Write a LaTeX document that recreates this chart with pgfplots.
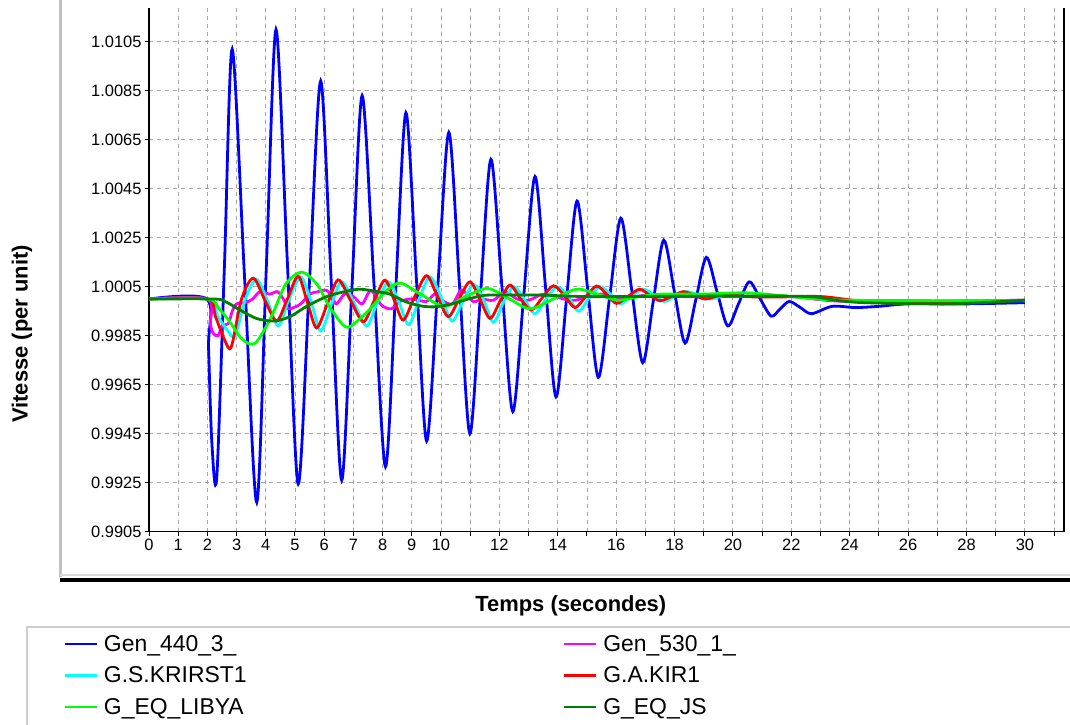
\documentclass[border=0pt]{standalone}
\usepackage{fontspec}
\setmainfont{Liberation Sans}
\setsansfont{Liberation Sans}
\usepackage{pgfplots}
\pgfplotsset{compat=1.18}
\definecolor{cblue}{RGB}{0,0,255}
\definecolor{cmag}{RGB}{255,0,255}
\definecolor{ccyan}{RGB}{0,255,255}
\definecolor{cred}{RGB}{255,0,0}
\definecolor{cgreen}{RGB}{0,255,0}
\definecolor{cdgreen}{RGB}{0,128,0}
\definecolor{panelgray}{RGB}{192,192,192}
\begin{document}
\begin{tikzpicture}[x=1bp,y=1bp]
\path[use as bounding box] (0,0) rectangle (1070,725);
\draw[color=panelgray, line width=3bp] (60,725) -- (60,148);
\draw[color=panelgray!60, line width=2bp] (60,150) -- (1070,150);
\draw[black, line width=4bp] (60,145) -- (1070,145);
\draw[color=panelgray!80, line width=1.5bp] (27,0) -- (27,98) -- (1070,98);
\begin{axis}[
  at={(149bp,193.3bp)}, anchor=south west, scale only axis,
  width=915bp, height=523.7bp,
  xmin=0, xmax=31.34, ymin=0.9905, ymax=1.01188,
  axis x line*=bottom, axis y line*=left,
  axis line style={-, line width=1.2bp, black},
  after end axis/.code={\draw[line width=1.2bp] (rel axis cs:1,0) -- (rel axis cs:1,1);},
  xtick={0,1,...,31},
  xticklabels={0,1,2,3,4,5,6,7,8,9,10,,12,,14,,16,,18,,20,,22,,24,,26,,28,,30,},
  ytick={0.9905,0.9925,0.9945,0.9965,0.9985,1.0005,1.0025,1.0045,1.0065,1.0085,1.0105},
  yticklabels={0.9905,0.9925,0.9945,0.9965,0.9985,1.0005,1.0025,1.0045,1.0065,1.0085,1.0105},
  tick align=outside, major tick length=4bp, tick style={black, line width=1bp},
  ticklabel style={font=\fontsize{16.5}{19}\selectfont},
  grid=major,
  major grid style={gray!70, line width=0.9bp, dash pattern=on 4bp off 4bp},
  xlabel={Temps (secondes)},
  ylabel={Vitesse (per unit)},
  xlabel style={at={(axis description cs:0.461,-0.142)}, anchor=center, font=\bfseries\fontsize{22}{26}\selectfont},
  ylabel style={at={(axis description cs:-0.1388,0.3775)}, anchor=center, font=\bfseries\fontsize{22}{26}\selectfont},
  legend columns=2,
  legend cell align=left,
  legend image code/.code={\draw[#1, line width=2.8bp] (0bp,0bp) -- (32bp,0bp);},
  legend style={at={(axis description cs:-0.094,-0.1935)}, anchor=north west,
    draw=none, fill=none, inner sep=0bp, row sep=10bp,
    font=\fontsize{23}{27}\selectfont,
    /tikz/every odd column/.append style={column sep=4bp},
    /tikz/every even column/.append style={column sep=314bp}},
  every axis plot/.append style={line width=2.8bp, smooth},
]
\addplot[cblue] coordinates {
(0,1.0000) (1.98,1.0000) (2.04,0.9980) (2.15,0.9942) (2.32,0.9927)
(2.585,1.0014) (2.85,1.0102) (3.27,1.00095) (3.69,0.9917)
(4.02,1.00135) (4.35,1.0110) (4.73,1.00173) (5.11,0.99245)
(5.495,1.00068) (5.88,1.0089) (6.24,1.00075) (6.60,0.9926)
(6.95,1.00045) (7.30,1.0083) (7.70,1.00073) (8.10,0.99315)
(8.45,1.00038) (8.80,1.0076) (9.155,1.0009) (9.51,0.9942)
(9.89,1.0005) (10.27,1.0068) (10.63,1.00065) (10.99,0.9945)
(11.35,1.0001) (11.71,1.0057) (12.085,1.00055) (12.46,0.9954)
(12.84,1.0002) (13.22,1.0050) (13.58,1.0005) (13.94,0.9960)
(14.30,1.0000) (14.66,1.0040) (15.025,1.0004) (15.39,0.9968)
(15.775,1.00005) (16.16,1.0033) (16.535,1.00035) (16.91,0.9974)
(17.27,0.9999) (17.63,1.0024) (17.995,1.0003) (18.36,0.9982)
(18.725,0.99995) (19.09,1.0017) (19.455,1.0003) (19.82,0.9989)
(20.19,0.9998) (20.56,1.0007) (20.935,1.0000) (21.31,0.9993)
(21.62,0.9996) (21.93,0.9999) (22.31,0.99965) (22.69,0.9994)
(23.4,0.9997) (24.2,0.99965) (25.0,0.9997) (26.0,0.9998) (28.0,0.9998) (30.0,0.99985)
};
\addlegendentry{Gen\_440\_3\_}
\addplot[cmag] coordinates {
(0,1.0000) (2.0,1.0000) (2.1,0.9990) (2.2,0.9986) (2.37,0.9985) (2.5,0.9989)
(2.72,0.9990) (2.85,0.9995) (3.0,0.9998) (3.3,0.99985) (3.55,1.0000) (3.8,1.0003)
(4.14,1.0002) (4.4,1.0003) (4.6,1.0000) (4.77,0.9996) (4.95,0.99965) (5.2,0.9998)
(5.5,1.0002) (5.8,1.0003) (6.09,1.00035) (6.3,1.0000) (6.43,0.9998) (6.7,1.0002)
(7.0,1.0001) (7.3,0.9998) (7.6,1.00035) (7.96,0.99975) (8.3,0.9996) (8.6,0.9999)
(9.0,1.0000) (9.5,0.9999) (9.79,1.0002) (10.1,0.9999) (10.4,0.9998) (10.71,1.00037)
(11.1,0.9999) (11.4,1.0000) (11.8,0.99995) (12.19,1.0003) (12.6,1.0000) (13.0,0.99995)
(13.45,1.00018) (13.8,1.00015) (14.2,1.0000) (14.6,0.99995) (15.0,1.0001) (15.5,1.0002)
(16.0,1.0000) (17.0,1.00015) (18.0,1.0001) (20.0,1.0001) (22.0,1.0001) (24.0,0.9999) (30.0,0.99995)
};
\addlegendentry{Gen\_530\_1\_}
\addplot[ccyan] coordinates {
(0,1.0000) (2.0,1.0000) (2.35,0.9993) (2.7,0.9987) (2.95,0.9985) (3.3,1.0000)
(3.68,1.0008) (4.05,0.99995) (4.43,0.9989) (4.8,1.0000) (5.2,1.0009) (5.55,0.9999)
(5.88,0.9987) (6.25,0.9998) (6.6,1.0007) (7.0,0.9999) (7.45,0.9989) (7.8,0.9998)
(8.2,1.0007) (8.55,0.9999) (8.9,0.99895) (9.25,1.0000) (9.62,1.0009) (10.0,1.0001)
(10.38,0.9991) (10.75,0.9999) (11.12,1.0006) (11.45,1.0000) (11.8,0.99905) (12.15,0.9999)
(12.5,1.0005) (12.85,1.0000) (13.22,0.9994) (13.6,1.0000) (13.98,1.0005) (14.35,1.0001)
(14.72,0.9995) (15.1,1.0001) (15.45,1.0005) (15.8,1.0002) (16.15,0.9998) (16.5,1.0001)
(16.93,1.0004) (17.3,1.00015) (17.65,0.9999) (18.0,1.0001) (18.45,1.0003) (19.2,1.0000)
(19.85,1.0002) (20.5,1.0001) (22.0,1.0001) (24.5,0.9999) (30.0,0.99995)
};
\addlegendentry{G.S.KRIRST1}
\addplot[cred] coordinates {
(0,1.0000) (2.0,1.0000) (2.27,0.9993) (2.6,0.9983) (2.82,0.99805) (3.17,1.0000)
(3.57,1.00085) (3.97,0.99995) (4.37,0.9991) (4.74,1.0000) (5.11,1.00093) (5.43,0.99985)
(5.74,0.99882) (6.11,0.9998) (6.48,1.00078) (6.9,0.99995) (7.34,0.99907) (7.7,0.9999)
(8.08,1.00077) (8.4,0.99995) (8.71,0.99914) (9.1,1.0001) (9.51,1.00095) (9.88,1.0001)
(10.25,0.99928) (10.62,1.0000) (10.99,1.0007) (11.33,1.0000) (11.68,0.99921) (12.02,0.9999)
(12.36,1.00057) (12.73,1.0000) (13.1,0.99955) (13.47,1.00005) (13.85,1.00054) (14.22,1.00015)
(14.59,0.99965) (14.96,1.0001) (15.33,1.00053) (15.67,1.0002) (16.01,0.99982) (16.4,1.0001)
(16.8,1.0004) (17.15,1.00015) (17.5,0.99993) (17.9,1.0001) (18.3,1.0003) (18.67,1.00015)
(19.04,1.0000) (19.4,1.0001) (19.73,1.00023) (20.4,1.0001) (21.5,1.00008) (23.0,1.0001)
(24.5,0.9999) (26.0,0.99985) (30.0,0.99995)
};
\addlegendentry{G.A.KIR1}
\addplot[cgreen] coordinates {
(0,1.0000) (2.0,1.0000) (2.4,0.9996) (2.75,0.9991) (3.2,0.99835) (3.64,0.9982)
(4.2,0.9993) (4.68,1.0006) (5.23,1.0011) (5.75,1.0006) (6.15,0.99975) (6.6,0.9990)
(6.88,0.99887) (7.5,0.9995) (8.1,1.0003) (8.6,1.00065) (9.3,1.0002) (10.1,0.9997)
(10.85,1.0001) (11.6,1.00043) (12.35,1.0000) (13.05,0.9996) (13.85,1.0000) (14.65,1.0004)
(15.35,1.0002) (16.05,0.99995) (16.8,1.0001) (17.6,1.0002) (19.0,1.0002) (20.5,1.00025)
(22.0,1.0001) (23.9,0.99995) (30.0,0.99993)
};
\addlegendentry{G\_EQ\_LIBYA}
\addplot[cdgreen] coordinates {
(0,1.0000) (2.2,1.0000) (2.6,0.9999) (3.12,0.99955) (3.69,0.9992) (4.3,0.9991)
(4.83,0.99928) (5.4,0.9997) (6.09,1.0001) (6.7,1.0003) (7.23,1.0004) (7.8,1.0003)
(8.25,1.0002) (8.77,0.9999) (9.3,0.99972) (9.8,0.99968) (10.37,0.9998) (10.94,1.0000)
(11.5,1.00015) (12.25,1.00016) (13.4,1.00016) (14.9,1.0001) (17.0,1.0001) (20.0,1.00012)
(22.6,1.0001) (23.5,0.99995) (24.5,0.99985) (27.0,0.9998) (28.5,0.99985) (30.0,0.99995)
};
\addlegendentry{G\_EQ\_JS}
\end{axis}
\end{tikzpicture}
\end{document}
